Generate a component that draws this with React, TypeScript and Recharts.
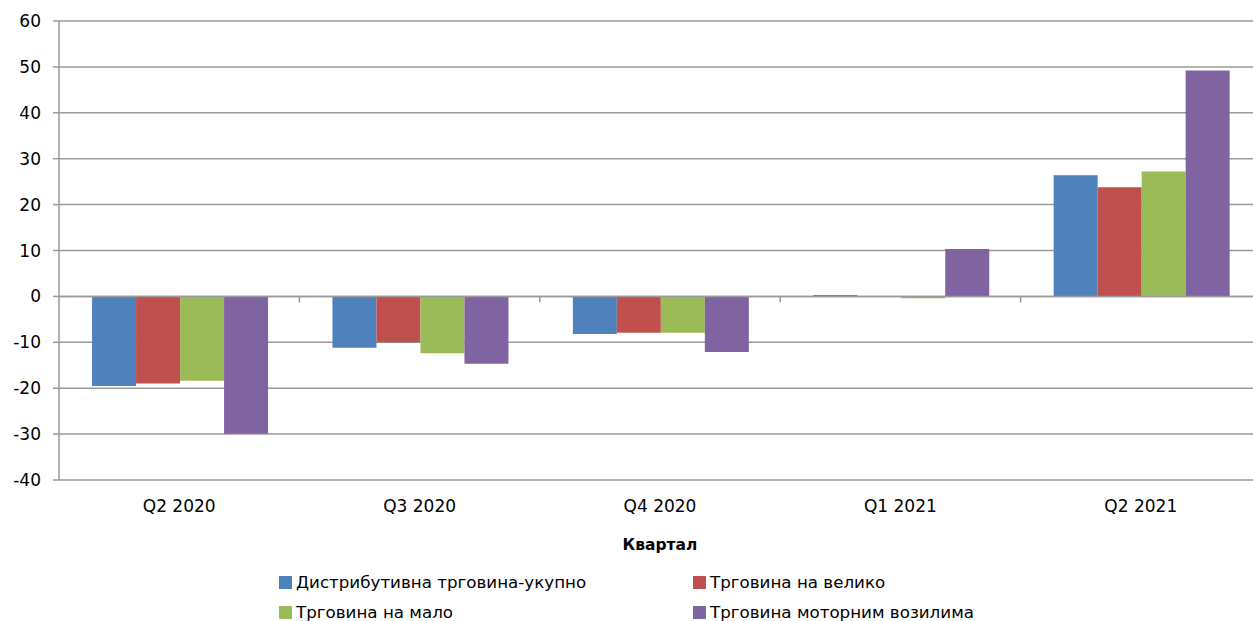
import {
  Bar,
  BarChart,
  CartesianGrid,
  Legend,
  ReferenceLine,
  XAxis,
  YAxis,
} from "recharts";

const quarters = ["Q2 2020", "Q3 2020", "Q4 2020", "Q1 2021", "Q2 2021"];
const totalTrade = [-19.5, -11.2, -8.2, 0.3, 26.4];
const wholesale = [-19.0, -10.0, -7.9, 0.1, 23.8];
const retail = [-18.4, -12.4, -7.9, -0.4, 27.2];
const motorVehicles = [-29.9, -14.7, -12.1, 10.3, 49.2];
const yTicks = [-40, -30, -20, -10, 0, 10, 20, 30, 40, 50, 60];

const series = [
  { key: "total", name: "Дистрибутивна трговина-укупно", color: "#4F81BD" },
  { key: "wholesale", name: "Трговина на велико", color: "#C0504D" },
  { key: "retail", name: "Трговина на мало", color: "#9BBB59" },
  { key: "motor", name: "Трговина моторним возилима", color: "#8064A2" },
];

const data = quarters.map((q, i) => ({
  quarter: q,
  total: totalTrade[i],
  wholesale: wholesale[i],
  retail: retail[i],
  motor: motorVehicles[i],
}));

const FONT = "'DejaVu Sans', sans-serif";
const GRID = "#9a9a9a";

function LegendBox() {
  return (
    <div
      style={{
        height: 61,
        display: "grid",
        gridTemplateColumns: "414px auto",
        paddingLeft: 279,
        paddingTop: 12,
        rowGap: 10,
        fontFamily: FONT,
        fontSize: 16.7,
        color: "#000",
        boxSizing: "border-box",
        lineHeight: "20px",
      }}
    >
      {series.map((s) => (
        <div key={s.key} style={{ display: "flex", alignItems: "center" }}>
          <span
            style={{
              width: 13,
              height: 13,
              background: s.color,
              marginRight: 4,
              display: "inline-block",
            }}
          />
          {s.name}
        </div>
      ))}
    </div>
  );
}

export default function App() {
  return (
    <div
      style={{
        position: "absolute",
        left: 0,
        top: 0,
        width: 1253,
        height: 621,
        overflow: "hidden",
        background: "#fff",
      }}
    >
      <BarChart
        width={1262}
        height={621}
        data={data}
        margin={{ top: 21, right: 1, left: 0, bottom: 0 }}
        barCategoryGap="13.75%"
        barGap={0}
      >
        <CartesianGrid vertical={false} stroke={GRID} strokeWidth={1.5} />
        <XAxis
          dataKey="quarter"
          axisLine={false}
          tickLine={false}
          height={80}
          tickMargin={14}
          tick={{ fill: "#000", fontSize: 17, fontFamily: FONT }}
          label={{
            value: "Квартал",
            position: "insideBottom",
            offset: 10,
            fill: "#000",
            fontSize: 15.5,
            fontWeight: "bold",
            fontFamily: FONT,
          }}
        />
        <YAxis
          domain={[-40, 60]}
          ticks={yTicks}
          width={59}
          interval={0}
          stroke={GRID}
          strokeWidth={1.5}
          tickSize={6}
          tickMargin={12}
          tick={{ fill: "#000", fontSize: 17, fontFamily: FONT }}
        />
        <ReferenceLine y={0} stroke={GRID} strokeWidth={1.5} />
        {quarters.slice(1).map((q) => (
          <ReferenceLine
            key={q}
            position="start"
            segment={[
              { x: q, y: 0 },
              { x: q, y: -1.3 },
            ]}
            stroke={GRID}
            strokeWidth={1.5}
          />
        ))}
        <Legend verticalAlign="bottom" content={() => <LegendBox />} />
        {series.map((s) => (
          <Bar
            key={s.key}
            dataKey={s.key}
            name={s.name}
            fill={s.color}
            isAnimationActive={false}
          />
        ))}
      </BarChart>
    </div>
  );
}
